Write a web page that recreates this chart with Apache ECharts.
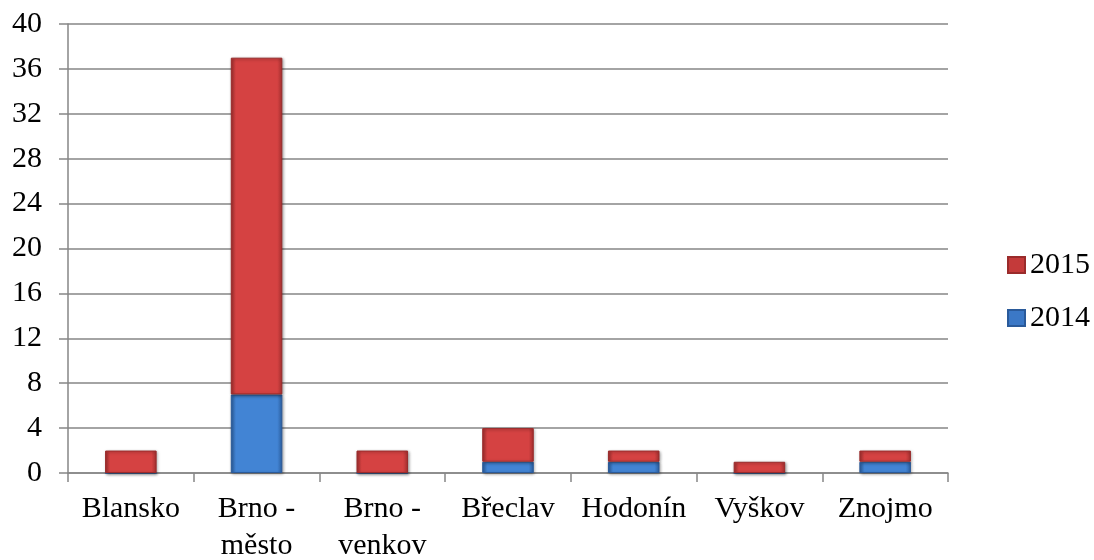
<!DOCTYPE html>
<html>
<head>
<meta charset="utf-8">
<script src="https://cdn.jsdelivr.net/npm/echarts@6/dist/echarts.min.js"></script>
<style>
  html, body { margin: 0; padding: 0; background: #fff; }
  #chart { width: 1094px; height: 560px; }
</style>
</head>
<body>
<div id="chart"></div>
<script>
  const categories = ['Blansko', 'Brno -\nměsto', 'Brno -\nvenkov', 'Břeclav', 'Hodonín', 'Vyškov', 'Znojmo']
  const values2014 = [0, 7, 0, 1, 1, 0, 1]
  const values2015 = [2, 30, 2, 3, 1, 1, 1]

  const font = '"Liberation Serif", "Times New Roman", serif'

  const grad = (edge, mid) => new echarts.graphic.LinearGradient(0, 0, 1, 0, [
    { offset: 0, color: edge },
    { offset: 0.1, color: mid },
    { offset: 0.9, color: mid },
    { offset: 1, color: edge }
  ])

  const redStyle = {
    color: grad('#a53030', '#d54242'),
    borderColor: '#9a2b2b',
    borderWidth: 1,
    shadowBlur: 3,
    shadowColor: 'rgba(0,0,0,0.35)',
    shadowOffsetX: 1,
    shadowOffsetY: 1
  }
  const blueStyle = {
    color: grad('#2c5fa0', '#4284d4'),
    borderColor: '#2a5a9a',
    borderWidth: 1,
    shadowBlur: 3,
    shadowColor: 'rgba(0,0,0,0.35)',
    shadowOffsetX: 1,
    shadowOffsetY: 1
  }

  const chart = echarts.init(document.getElementById('chart'))
  chart.setOption({
    animation: false,
    grid: { left: 68, right: 146, top: 24, bottom: 87, containLabel: false, outerBoundsMode: 'none' },
    legend: {
      orient: 'vertical',
      left: 1002,
      top: 245,
      icon: 'rect',
      itemWidth: 17,
      itemHeight: 16,
      itemGap: 23,
      data: [
        { name: '2015', itemStyle: { color: '#c43a3a' } },
        { name: '2014', itemStyle: { color: '#3b78c6' } }
      ],
      textStyle: { fontFamily: font, fontSize: 30, lineHeight: 30, color: '#000' }
    },
    xAxis: {
      type: 'category',
      data: categories,
      axisLine: { lineStyle: { color: '#868686', width: 1.5 } },
      axisTick: { show: true, length: 9, lineStyle: { color: '#868686', width: 1.5 } },
      axisLabel: { interval: 0, fontFamily: font, fontSize: 30, color: '#000', margin: 18, lineHeight: 37 }
    },
    yAxis: {
      type: 'value',
      min: 0,
      max: 40,
      interval: 4,
      axisLine: { show: true, lineStyle: { color: '#868686', width: 1.5 } },
      axisTick: { show: true, length: 9, lineStyle: { color: '#868686', width: 1.5 } },
      splitLine: { lineStyle: { color: '#868686', width: 1.5 } },
      axisLabel: { fontFamily: font, fontSize: 30, color: '#000', margin: 26 }
    },
    series: [
      {
        name: '2014',
        type: 'bar',
        stack: 'one',
        barWidth: '41%',
        itemStyle: blueStyle,
        data: values2014
      },
      {
        name: '2015',
        type: 'bar',
        stack: 'one',
        barWidth: '41%',
        itemStyle: redStyle,
        data: values2015
      }
    ]
  })
</script>
</body>
</html>
